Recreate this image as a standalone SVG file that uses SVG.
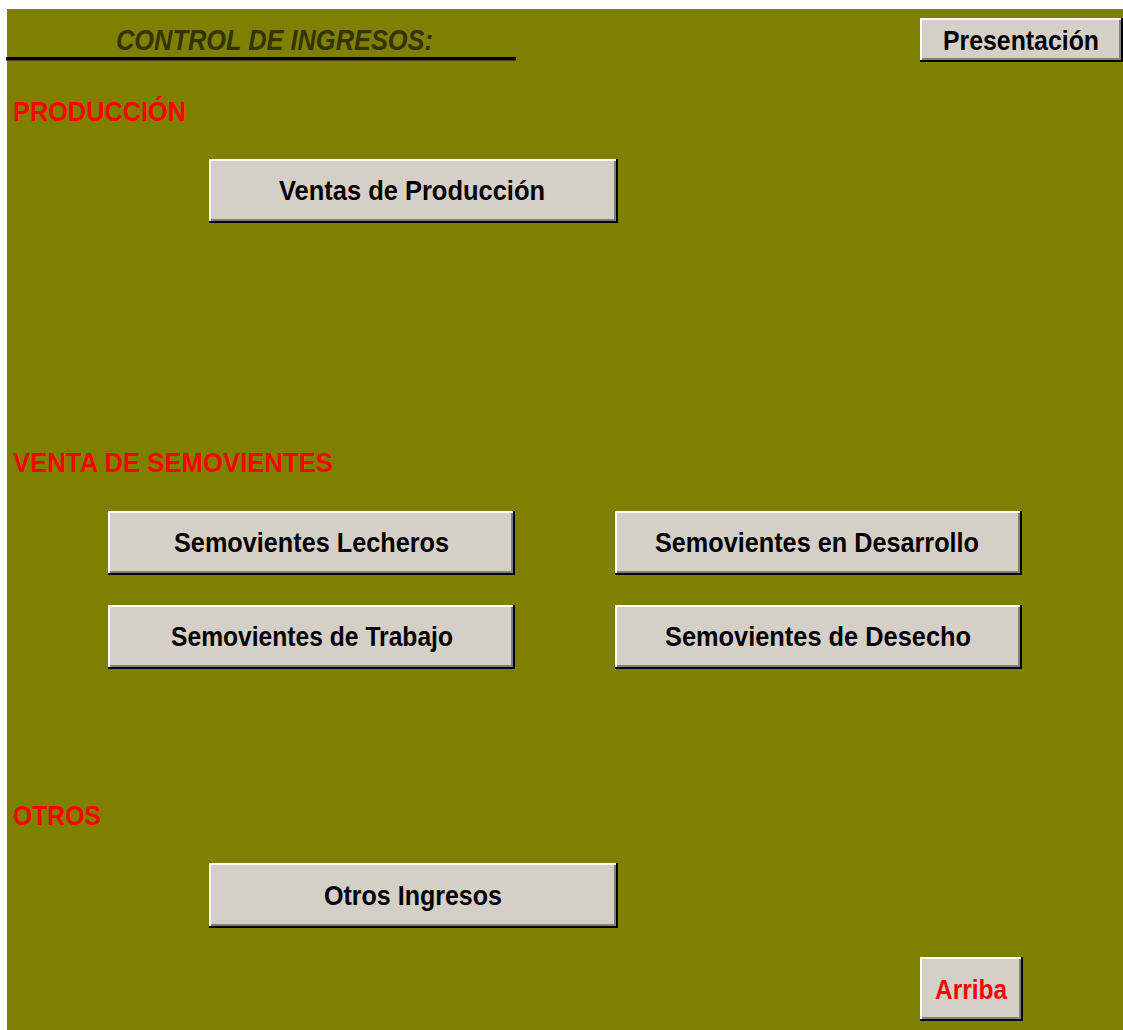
<svg xmlns="http://www.w3.org/2000/svg" width="1123" height="1030" viewBox="0 0 1123 1030">
  <style>
    .bk { fill: #000000; }
    .wh { fill: #ffffff; }
    .gr { fill: #808080; }
    .fc { fill: #d4d0c8; }
    .btxt { font-family: "Liberation Sans", Arial, sans-serif; font-weight: bold; font-size: 28px; fill: #000000; text-anchor: middle; }
    .rtxt { fill: #ff0000; }
    .sect { font-family: "Liberation Sans", Arial, sans-serif; font-weight: bold; font-size: 28px; fill: #ff0000; }
    .title { font-family: "Liberation Sans", Arial, sans-serif; font-weight: bold; font-style: italic; font-size: 29px; fill: #333300; }
  </style>
  <rect x="0" y="0" width="1123" height="1030" fill="#ffffff"/>
  <rect x="7" y="9" width="1116" height="1021" fill="#808000"/>

  <g id="header">
    <text class="title" x="116" y="50" textLength="317" lengthAdjust="spacingAndGlyphs">CONTROL DE INGRESOS:</text>
    <rect x="6" y="57" width="510" height="3.5" fill="#000000"/>
  </g>

  <g id="btn-presentacion">
    <rect class="bk" x="920" y="18" width="203" height="44"/>
    <rect class="wh" x="920" y="18" width="201" height="42"/>
    <rect class="gr" x="922" y="20" width="199" height="40"/>
    <rect class="fc" x="922" y="20" width="197" height="38"/>
    <text class="btxt" x="1021" y="50" textLength="156" lengthAdjust="spacingAndGlyphs">Presentación</text>
  </g>

  <g id="sec-produccion">
    <text class="sect" x="13" y="121" textLength="173" lengthAdjust="spacingAndGlyphs">PRODUCCIÓN</text>
  </g>

  <g id="btn-ventas-produccion">
    <rect class="bk" x="209" y="159" width="409" height="64"/>
    <rect class="wh" x="209" y="159" width="407" height="62"/>
    <rect class="gr" x="211" y="161" width="405" height="60"/>
    <rect class="fc" x="211" y="161" width="403" height="58"/>
    <text class="btxt" x="412" y="200" textLength="266" lengthAdjust="spacingAndGlyphs">Ventas de Producción</text>
  </g>

  <g id="sec-venta-semovientes">
    <text class="sect" x="13" y="472" textLength="320" lengthAdjust="spacingAndGlyphs">VENTA DE SEMOVIENTES</text>
  </g>

  <g id="btn-lecheros">
    <rect class="bk" x="108" y="511" width="407" height="64"/>
    <rect class="wh" x="108" y="511" width="405" height="62"/>
    <rect class="gr" x="110" y="513" width="403" height="60"/>
    <rect class="fc" x="110" y="513" width="401" height="58"/>
    <text class="btxt" x="311.5" y="552" textLength="275" lengthAdjust="spacingAndGlyphs">Semovientes Lecheros</text>
  </g>

  <g id="btn-desarrollo">
    <rect class="bk" x="615" y="511" width="407" height="64"/>
    <rect class="wh" x="615" y="511" width="405" height="62"/>
    <rect class="gr" x="617" y="513" width="403" height="60"/>
    <rect class="fc" x="617" y="513" width="401" height="58"/>
    <text class="btxt" x="817" y="552" textLength="324" lengthAdjust="spacingAndGlyphs">Semovientes en Desarrollo</text>
  </g>

  <g id="btn-trabajo">
    <rect class="bk" x="108" y="605" width="407" height="64"/>
    <rect class="wh" x="108" y="605" width="405" height="62"/>
    <rect class="gr" x="110" y="607" width="403" height="60"/>
    <rect class="fc" x="110" y="607" width="401" height="58"/>
    <text class="btxt" x="312" y="646" textLength="282" lengthAdjust="spacingAndGlyphs">Semovientes de Trabajo</text>
  </g>

  <g id="btn-desecho">
    <rect class="bk" x="615" y="605" width="407" height="64"/>
    <rect class="wh" x="615" y="605" width="405" height="62"/>
    <rect class="gr" x="617" y="607" width="403" height="60"/>
    <rect class="fc" x="617" y="607" width="401" height="58"/>
    <text class="btxt" x="818" y="646" textLength="306" lengthAdjust="spacingAndGlyphs">Semovientes de Desecho</text>
  </g>

  <g id="sec-otros">
    <text class="sect" x="13" y="825" textLength="88" lengthAdjust="spacingAndGlyphs">OTROS</text>
  </g>

  <g id="btn-otros-ingresos">
    <rect class="bk" x="209" y="863" width="409" height="65"/>
    <rect class="wh" x="209" y="863" width="407" height="63"/>
    <rect class="gr" x="211" y="865" width="405" height="61"/>
    <rect class="fc" x="211" y="865" width="403" height="59"/>
    <text class="btxt" x="413" y="905" textLength="178" lengthAdjust="spacingAndGlyphs">Otros Ingresos</text>
  </g>

  <g id="btn-arriba">
    <rect class="bk" x="920" y="957" width="103" height="64"/>
    <rect class="wh" x="920" y="957" width="101" height="62"/>
    <rect class="gr" x="922" y="959" width="99" height="60"/>
    <rect class="fc" x="922" y="959" width="97" height="58"/>
    <text class="btxt rtxt" x="971" y="999" textLength="72" lengthAdjust="spacingAndGlyphs">Arriba</text>
  </g>

  <g id="connectors"/>
</svg>
